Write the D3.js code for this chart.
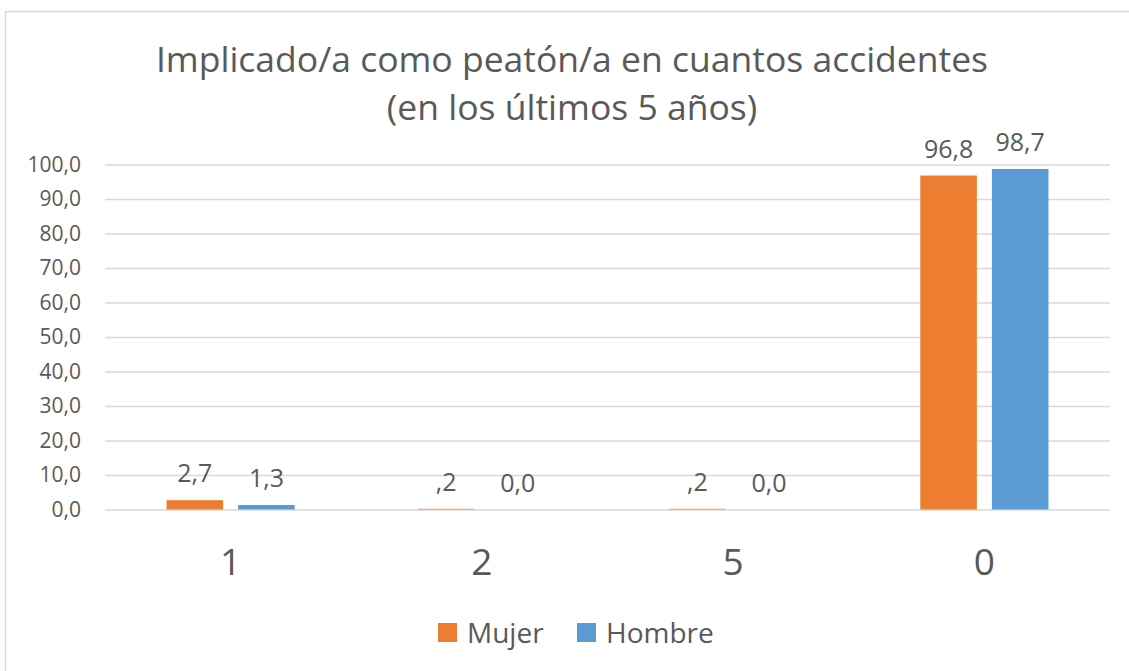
<!DOCTYPE html>
<html lang="es">
<head>
  <meta charset="UTF-8" />
  <title>peaton accidentes</title>
  <script src="https://d3js.org/d3.v7.min.js"></script>
  <style>
    body { margin: 0; background: #fff; }
    text { font-family: "Open Sans", "Noto Sans", sans-serif; fill: #595959; }
  </style>
</head>
<body>
<script>

const WIDTH = 1129;
const HEIGHT = 671;

// data
const categories = ["1", "2", "5", "0"];
const seriesNames = ["Mujer", "Hombre"];
const mujer = [2.7, 0.2, 0.2, 96.8];
const hombre = [1.3, 0.0, 0.0, 98.7];
const yTicks = [0, 10, 20, 30, 40, 50, 60, 70, 80, 90, 100];
const colors = ["#ED7D31", "#5B9BD5"];

const rows = categories.map((c, i) => ({cat: c, values: [mujer[i], hombre[i]]}));

var svg = d3.select("body")
    .append("svg")
        .attr("width", WIDTH)
        .attr("height", HEIGHT);

// chart border
svg.append("rect")
    .attr("x", 5.5).attr("y", 11.5)
    .attr("width", 1140).attr("height", 700)
    .attr("fill", "none")
    .attr("stroke", "#D9D9D9")
    .attr("stroke-width", 1.5);

// title
svg.append("text")
    .attr("x", 572).attr("y", 72)
    .attr("text-anchor", "middle")
    .attr("font-size", 35.5)
    .text("Implicado/a como peatón/a en cuantos accidentes");
svg.append("text")
    .attr("x", 572).attr("y", 120)
    .attr("text-anchor", "middle")
    .attr("font-size", 35.5)
    .text("(en los últimos 5 años)");

const plotLeft = 105, plotRight = 1110, plotTop = 164.5, plotBottom = 509.5;

const yScale = d3.scaleLinear()
    .domain([0, 100])
    .range([plotBottom, plotTop]);

const x0 = d3.scaleBand()
    .domain(categories)
    .range([plotLeft, plotRight])
    .paddingInner(0.49)
    .paddingOuter(0.245);

const x1 = d3.scaleBand()
    .domain(seriesNames)
    .range([0, x0.bandwidth()])
    .paddingInner(0.21);

// grid + y labels
svg.append("g")
    .attr("transform", `translate(${plotLeft}, 0)`)
    .call(
        d3.axisLeft(yScale)
            .tickValues(yTicks)
            .tickSize(-(plotRight - plotLeft))
            .tickPadding(24)
            .tickFormat(d => d3.format(".1f")(d).replace(".", ","))
    )
    .call(g => g.select(".domain").remove())
    .call(g => g.selectAll(".tick line")
        .attr("stroke", "#D9D9D9")
        .attr("stroke-width", 1.5))
    .call(g => g.selectAll(".tick text")
        .attr("font-size", 21)
        .attr("fill", "#595959")
        .attr("font-family", null));

// x axis labels
svg.append("g")
    .attr("transform", `translate(0, ${plotBottom})`)
    .call(d3.axisBottom(x0).tickSize(0).tickPadding(39))
    .call(g => g.select(".domain").remove())
    .call(g => g.selectAll(".tick text")
        .attr("font-size", 37)
        .attr("fill", "#595959")
        .attr("font-family", null));

// bars
const groups = svg.selectAll(".grp")
    .data(rows)
    .enter().append("g")
        .attr("class", "grp")
        .attr("transform", d => `translate(${x0(d.cat)}, 0)`);

groups.selectAll("rect")
    .data(d => d.values.map((v, i) => ({name: seriesNames[i], v: v, i: i})))
    .enter().append("rect")
        .attr("x", d => x1(d.name))
        .attr("y", d => yScale(d.v))
        .attr("width", x1.bandwidth())
        .attr("height", d => plotBottom - yScale(d.v))
        .attr("fill", d => colors[d.i]);

function fmtLabel(v) {
    let s = d3.format(".1f")(v).replace(".", ",");
    if (s.startsWith("0,") && v !== 0) s = s.slice(1);
    return s;
}

groups.selectAll(".lbl")
    .data(d => d.values.map((v, i) => ({name: seriesNames[i], v: v, i: i})))
    .enter().append("text")
        .attr("class", "lbl")
        .attr("x", d => x1(d.name) + x1.bandwidth() / 2)
        .attr("y", d => yScale(d.v) - 18)
        .attr("text-anchor", "middle")
        .attr("font-size", 25)
        .text(d => fmtLabel(d.v));

// legend
const legend = svg.append("g");
const legendX = [438, 577];
seriesNames.forEach((n, i) => {
    legend.append("rect")
        .attr("x", legendX[i]).attr("y", 623)
        .attr("width", 19).attr("height", 19)
        .attr("fill", colors[i]);
    legend.append("text")
        .attr("x", legendX[i] + 29).attr("y", 643)
        .attr("font-size", 28)
        .text(n);
});

</script>
</body>
</html>
